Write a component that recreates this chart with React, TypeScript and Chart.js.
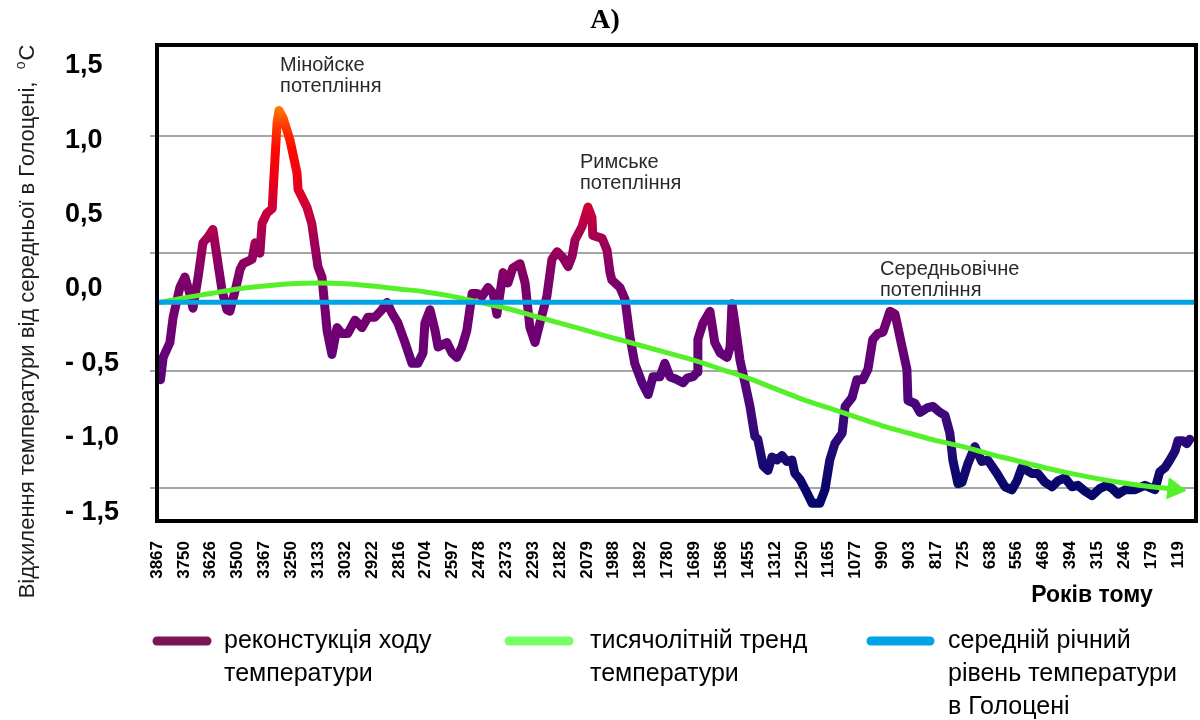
import React, { useEffect, useRef } from 'react';
import { Chart, registerables } from 'chart.js';

Chart.register(...registerables);

// ---------- DATA ----------
const chartTitle = 'A)';
const xAxisTitle = 'Років тому';
const yAxisTitle = 'Відхилення температури від середньої в Голоцені,  ';
const yAxisUnitSup = 'o';
const yAxisUnit = 'C';

// x-axis category labels (years ago)
const xLabels = ['3867', '3750', '3626', '3500', '3367', '3250', '3133', '3032', '2922', '2816', '2704', '2597', '2478', '2373', '2293', '2182', '2079', '1988', '1892', '1780', '1689', '1586', '1455', '1312', '1250', '1165', '1077', '990', '903', '817', '725', '638', '556', '468', '394', '315', '246', '179', '119'];

// y-axis tick labels
const yTickValues = [1.5, 1.0, 0.5, 0.0, -0.5, -1.0, -1.5];
const yTickLabels = ['1,5', '1,0', '0,5', '0,0', '- 0,5', '- 1,0', '- 1,5'];
// horizontal grid levels (in temperature units)
const gridLevels = [1.03, 0.24, -0.55, -1.34];

// reconstructed temperature: position along the label axis (label index units) and anomaly, °C
const reconPos = [0.13, 0.23, 0.48, 0.60, 0.85, 1.04, 1.22, 1.34, 1.53, 1.71, 1.90, 2.08, 2.23, 2.42, 2.60, 2.71, 2.91, 3.09, 3.20, 3.54, 3.65, 3.83, 3.91, 4.09, 4.29, 4.32, 4.47, 4.54, 4.69, 4.95, 5.21, 5.25, 5.58, 5.76, 5.99, 6.14, 6.33, 6.51, 6.70, 6.88, 7.10, 7.37, 7.63, 7.85, 8.11, 8.37, 8.56, 8.74, 8.97, 9.23, 9.49, 9.71, 9.90, 9.97, 10.16, 10.35, 10.46, 10.79, 10.98, 11.16, 11.35, 11.53, 11.73, 11.91, 12.10, 12.32, 12.51, 12.65, 12.88, 13.06, 13.24, 13.51, 13.70, 13.88, 14.07, 14.25, 14.51, 14.70, 14.89, 15.11, 15.30, 15.45, 15.56, 15.82, 16.04, 16.19, 16.22, 16.57, 16.75, 16.86, 16.93, 17.23, 17.42, 17.60, 17.78, 18.05, 18.28, 18.46, 18.72, 18.90, 19.09, 19.36, 19.58, 19.73, 19.95, 20.10, 20.13, 20.32, 20.58, 20.76, 20.96, 21.22, 21.33, 21.40, 21.51, 21.70, 21.88, 22.07, 22.25, 22.36, 22.56, 22.74, 22.89, 23.07, 23.26, 23.44, 23.63, 23.74, 23.93, 24.19, 24.38, 24.67, 24.86, 25.04, 25.23, 25.50, 25.61, 25.87, 26.05, 26.27, 26.46, 26.64, 26.83, 27.02, 27.28, 27.47, 27.73, 27.91, 27.95, 28.21, 28.40, 28.66, 28.88, 29.14, 29.33, 29.51, 29.62, 29.81, 29.96, 30.19, 30.44, 30.70, 30.92, 31.26, 31.56, 31.82, 32.01, 32.19, 32.56, 32.78, 33.05, 33.31, 33.53, 33.79, 34.05, 34.27, 34.54, 34.80, 35.10, 35.35, 35.54, 35.77, 36.03, 36.40, 36.77, 37.14, 37.32, 37.52, 37.70, 37.89, 38.00, 38.18, 38.33, 38.44];
const reconTemp = [-0.61, -0.46, -0.36, -0.19, 0.01, 0.08, -0.03, -0.13, 0.08, 0.31, 0.35, 0.40, 0.22, -0.01, -0.14, -0.15, -0.01, 0.13, 0.17, 0.20, 0.31, 0.24, 0.44, 0.51, 0.54, 0.65, 1.12, 1.20, 1.15, 1.00, 0.78, 0.67, 0.55, 0.44, 0.15, 0.08, -0.28, -0.44, -0.26, -0.30, -0.30, -0.21, -0.26, -0.19, -0.19, -0.14, -0.09, -0.16, -0.23, -0.36, -0.50, -0.50, -0.43, -0.23, -0.14, -0.28, -0.39, -0.36, -0.43, -0.46, -0.39, -0.28, -0.03, -0.03, -0.05, 0.01, -0.03, -0.17, 0.11, 0.04, 0.14, 0.17, 0.04, -0.26, -0.36, -0.23, -0.05, 0.20, 0.25, 0.21, 0.15, 0.22, 0.33, 0.42, 0.55, 0.48, 0.36, 0.34, 0.26, 0.11, 0.06, 0.01, -0.07, -0.32, -0.50, -0.63, -0.71, -0.59, -0.59, -0.50, -0.59, -0.61, -0.63, -0.60, -0.59, -0.56, -0.34, -0.23, -0.15, -0.36, -0.43, -0.46, -0.39, -0.10, -0.23, -0.48, -0.63, -0.79, -0.99, -1.01, -1.19, -1.22, -1.13, -1.15, -1.12, -1.16, -1.15, -1.24, -1.28, -1.37, -1.44, -1.44, -1.35, -1.15, -1.04, -0.97, -0.79, -0.73, -0.61, -0.61, -0.54, -0.34, -0.30, -0.29, -0.15, -0.17, -0.39, -0.54, -0.75, -0.77, -0.83, -0.80, -0.79, -0.83, -0.85, -0.97, -1.15, -1.31, -1.30, -1.17, -1.06, -1.16, -1.15, -1.24, -1.33, -1.35, -1.29, -1.20, -1.24, -1.24, -1.30, -1.33, -1.29, -1.27, -1.33, -1.32, -1.36, -1.39, -1.34, -1.32, -1.34, -1.38, -1.35, -1.35, -1.32, -1.35, -1.23, -1.20, -1.15, -1.09, -1.02, -1.02, -1.04, -1.01];

// millennial trend
const trendPos = [0, 1, 2, 3, 4, 5, 6, 7, 8, 9, 10, 11, 12, 13, 14, 15, 16, 17, 18, 19, 20, 21, 22, 23, 24, 25, 26, 27, 28, 29, 30, 31, 32, 33, 34, 35, 36, 37, 37.85];
const trendTemp = [-0.095, -0.06, -0.03, 0.0, 0.02, 0.035, 0.04, 0.035, 0.02, 0.0, -0.02, -0.05, -0.09, -0.13, -0.18, -0.23, -0.28, -0.33, -0.38, -0.43, -0.48, -0.54, -0.60, -0.67, -0.74, -0.80, -0.86, -0.92, -0.97, -1.02, -1.06, -1.11, -1.155, -1.20, -1.24, -1.275, -1.305, -1.33, -1.345];

// Holocene mean level
const meanLevel = -0.09;

// annotations (position in label-index units, first line level in °C)
const annotationLines = [['Мінойске', 'потепління'], ['Римське', 'потепління'], ['Середньовічне', 'потепління']];
const annotationPos = [4.58, 15.74, 26.91];
const annotationLevel = [1.5, 0.85, 0.13];

// legend
const legendLabels = [
  ['реконстукція ходу', 'температури'],
  ['тисячолітній тренд', 'температури'],
  ['середній річний', 'рівень температури', 'в Голоцені'],
];

// ---------- STYLE ----------
const X_MIN = 0;
const X_MAX = 38.67;
const Y_MIN = -1.56;
const Y_MAX = 1.64;
const FONT = '"Liberation Sans", Arial, Helvetica, sans-serif';
const reconStops: [number, string][] = [
  [1.25, '#ff8a00'], [1.1, '#ff3a00'], [0.95, '#ff0a00'], [0.75, '#ee0012'], [0.55, '#cc0038'],
  [0.3, '#9c0058'], [0.05, '#7c006a'], [-0.35, '#6c0074'], [-0.7, '#52047c'], [-0.95, '#34087a'],
  [-1.15, '#180a72'], [-1.35, '#06066a'],
];
const trendColor = '#55f02a';
const meanColor = '#00a3e6';
const legendColors = ['#7b1555', '#77ff66', '#00a3e6'];

export default function App() {
  const ref = useRef<HTMLCanvasElement>(null);

  useEffect(() => {
    const canvas = ref.current;
    if (!canvas) return;

    const n = Math.min(reconPos.length, reconTemp.length);
    const recon = [] as { x: number; y: number }[];
    for (let i = 0; i < n; i++) recon.push({ x: reconPos[i], y: reconTemp[i] });
    const trend = trendPos.map((x, i) => ({ x, y: trendTemp[i] }));
    const mean = [{ x: X_MIN, y: meanLevel }, { x: X_MAX, y: meanLevel }];

    const overlay = {
      id: 'overlay',
      afterDraw(chart: any) {
        const { ctx, chartArea: a, scales } = chart;
        const xs = scales.x;
        const ys = scales.y;
        ctx.save();
        // frame
        ctx.strokeStyle = '#000';
        ctx.lineWidth = 4;
        ctx.strokeRect(a.left, a.top, a.right - a.left, a.bottom - a.top);

        // title
        ctx.fillStyle = '#000';
        ctx.font = 'bold 28px "Liberation Serif", "Times New Roman", serif';
        ctx.textAlign = 'center';
        ctx.textBaseline = 'middle';
        ctx.fillText(chartTitle, 605, 21);

        // x axis title
        ctx.font = 'bold 23px ' + FONT;
        ctx.fillText(xAxisTitle, 1092, 596);

        // y axis title (rotated)
        ctx.save();
        ctx.translate(28, 322);
        ctx.rotate(-Math.PI / 2);
        ctx.fillStyle = '#1e1e1e';
        const mainFont = '22px ' + FONT;
        const supFont = '14px ' + FONT;
        ctx.font = mainFont;
        const w1 = ctx.measureText(yAxisTitle).width;
        const w3 = ctx.measureText(yAxisUnit).width;
        ctx.font = supFont;
        const w2 = ctx.measureText(yAxisUnitSup).width;
        let sx = -(w1 + w2 + w3) / 2;
        ctx.textAlign = 'left';
        ctx.textBaseline = 'middle';
        ctx.font = mainFont;
        ctx.fillText(yAxisTitle, sx, 0);
        sx += w1;
        ctx.font = supFont;
        ctx.fillText(yAxisUnitSup, sx, -7);
        sx += w2 + 1;
        ctx.font = mainFont;
        ctx.fillText(yAxisUnit, sx, 0);
        ctx.restore();

        // annotations
        ctx.fillStyle = '#2a2a2a';
        ctx.font = '20px ' + FONT;
        ctx.textAlign = 'left';
        ctx.textBaseline = 'middle';
        annotationLines.forEach((lines, k) => {
          const px = xs.getPixelForValue(annotationPos[k]);
          const py = ys.getPixelForValue(annotationLevel[k]);
          lines.forEach((t, j) => ctx.fillText(t, px, py + j * 21));
        });

        // legend
        const swatch = [[153, 211], [505, 573], [867, 934]];
        const textX = [224, 590, 948];
        const baseY = 641;
        const gap = 33;
        legendLabels.forEach((lines, k) => {
          ctx.strokeStyle = legendColors[k];
          ctx.lineWidth = 9;
          ctx.lineCap = 'round';
          ctx.beginPath();
          ctx.moveTo(swatch[k][0] + 4, baseY);
          ctx.lineTo(swatch[k][1] - 4, baseY);
          ctx.stroke();
          ctx.fillStyle = '#000';
          ctx.font = '25px ' + FONT;
          ctx.textAlign = 'left';
          ctx.textBaseline = 'middle';
          lines.forEach((t, j) => ctx.fillText(t, textX[k], baseY + j * gap));
        });
        ctx.restore();
      },
    };

    const chart = new Chart(canvas, {
      type: 'line',
      data: {
        datasets: [
          {
            label: 'середній річний рівень температури в Голоцені',
            data: mean,
            borderColor: meanColor,
            borderWidth: 5,
            pointRadius: 0,
            order: 0,
          },
          {
            label: 'тисячолітній тренд температури',
            data: trend,
            borderColor: trendColor,
            backgroundColor: trendColor,
            borderWidth: 5,
            tension: 0.4,
            cubicInterpolationMode: 'monotone',
            pointStyle: 'triangle',
            pointRotation: 97,
            pointBorderWidth: 1,
            pointBorderColor: trendColor,
            pointBackgroundColor: trendColor,
            pointRadius: (c: any) => (c.dataIndex === trend.length - 1 ? 12 : 0),
            order: 1,
          },
          {
            label: 'реконстукція ходу температури',
            data: recon,
            borderColor: (c: any) => {
              const ch = c.chart;
              if (!ch.chartArea || !ch.scales.y) return '#6c0074';
              const ys = ch.scales.y;
              const p0 = ys.getPixelForValue(reconStops[0][0]);
              const p1 = ys.getPixelForValue(reconStops[reconStops.length - 1][0]);
              const g = ch.ctx.createLinearGradient(0, p0, 0, p1);
              reconStops.forEach(([v, col]) => {
                const t = (ys.getPixelForValue(v) - p0) / (p1 - p0);
                g.addColorStop(Math.max(0, Math.min(1, t)), col);
              });
              return g;
            },
            borderWidth: 9,
            borderJoinStyle: 'round',
            borderCapStyle: 'round',
            tension: 0,
            pointRadius: 0,
            order: 2,
          },
        ],
      } as any,
      options: {
        responsive: false,
        animation: false,
        devicePixelRatio: 1,
        events: [],
        layout: { autoPadding: false, padding: { left: 65, top: 45, right: 4, bottom: 119 } },
        plugins: {
          legend: { display: false },
          title: { display: false },
          tooltip: { enabled: false },
        },
        scales: {
          x: {
            type: 'linear',
            min: X_MIN,
            max: X_MAX,
            grid: { display: false, drawTicks: false },
            border: { display: false },
            afterBuildTicks: (scale: any) => {
              scale.ticks = xLabels.map((_, i) => ({ value: i }));
            },
            afterFit: (scale: any) => {
              scale.height = 80;
              scale.paddingLeft = 0;
              scale.paddingRight = 0;
            },
            ticks: {
              autoSkip: false,
              minRotation: 90,
              maxRotation: 90,
              padding: 20,
              color: '#000',
              font: { family: FONT, size: 17, weight: 'bold' },
              callback: (_v: any, i: number) => xLabels[i],
            },
          },
          y: {
            type: 'linear',
            min: Y_MIN,
            max: Y_MAX,
            border: { display: false },
            grid: {
              lineWidth: 2,
              tickLength: 7,
              color: (c: any) => (c.tick && gridLevels.includes(c.tick.value) ? '#a6a6a6' : 'rgba(0,0,0,0)'),
              tickColor: (c: any) => (c.tick && gridLevels.includes(c.tick.value) ? '#a6a6a6' : 'rgba(0,0,0,0)'),
            },
            afterBuildTicks: (scale: any) => {
              scale.ticks = [...yTickValues, ...gridLevels].map((v) => ({ value: v }));
            },
            afterFit: (scale: any) => {
              scale.width = 92;
              scale.paddingTop = 0;
              scale.paddingBottom = 0;
            },
            ticks: {
              autoSkip: false,
              crossAlign: 'far',
              color: '#000',
              font: { family: FONT, size: 27, weight: 'bold' },
              callback: (v: any) => {
                const k = yTickValues.indexOf(v);
                return k >= 0 ? yTickLabels[k] : '';
              },
            },
          },
        },
      } as any,
      plugins: [overlay],
    });

    return () => chart.destroy();
  }, []);

  return (
    <div style={{ position: 'absolute', left: 0, top: 0, width: 1200, height: 720, background: '#fff' }}>
      <canvas ref={ref} width={1200} height={720} style={{ display: 'block', width: 1200, height: 720 }} />
    </div>
  );
}
